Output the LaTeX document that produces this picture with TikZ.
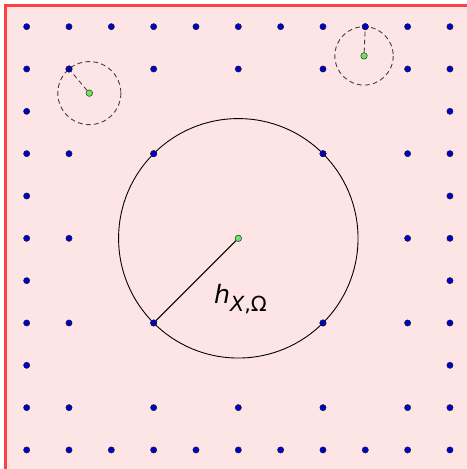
\documentclass[tikz,border=0pt]{standalone}
\usepackage{fontspec}
\usepackage{tikz}
\usetikzlibrary{positioning}
\newfontfamily\lblfont{DejaVu Sans}
\definecolor{DomFill}{HTML}{FDE5E5}
\definecolor{DomEdge}{HTML}{FF4040}
\definecolor{PtBlue}{HTML}{0000C8}
\definecolor{PtGreen}{HTML}{6CE65A}
\definecolor{PtInk}{HTML}{1A1A2E}

\begin{document}
\begin{tikzpicture}[x=1cm,y=-1cm]
  \tikzset{
    omegabox/.style={draw=DomEdge,fill=DomFill,line width=1.4pt},
    pt/.style={circle,inner sep=0pt,minimum size=4.2pt,fill=PtBlue,draw=PtInk,line width=.3pt},
    ctr/.style={circle,inner sep=0pt,minimum size=4.4pt,fill=PtGreen,draw=PtInk,line width=.3pt},
    ball/.style={draw=black,line width=.6pt},
    probe/.style={draw=black!75,line width=.6pt,dash pattern=on 3.2pt off 2.2pt}
  }
  \useasboundingbox (-0.63,-0.63) rectangle (10.38,10.45);
  \fill[DomFill] (-0.5,-0.5) rectangle (10.5,10.5);
  \draw[omegabox] (10.5,-0.5) -- (-0.5,-0.5) -- (-0.5,10.5);
  % point set, row by row
  \foreach \j/\cols in {0/{0,1,...,10},1/{0,1,3,5,7,9,10},2/{0,10},3/{0,1,3,7,9,10},
      4/{0,10},5/{0,1,9,10},6/{0,10},7/{0,1,3,7,9,10},8/{0,10},
      9/{0,1,3,5,7,9,10},10/{0,1,...,10}}
    \foreach \i in \cols
      \node[pt] (p-\i-\j) at (\i,\j) {};
  % fill distance ball
  \node[ctr] (c) at (5,5) {};
  \draw[ball] (c.center) circle[radius=2.8284];
  \draw[ball] (c) -- (p-3-7);
  \node[anchor=base west,inner sep=0pt,font=\lblfont\fontsize{17}{19}\selectfont] (lbl) at (4.42,6.55)
    {\itshape h\raisebox{-5pt}{\fontsize{14}{16}\selectfont\itshape X\upshape,Ω}};
  % small balls
  \node[ctr] (s1) at (1.48,1.57) {};
  \draw[probe] (s1.center) circle[radius=0.745];
  \draw[probe] (s1) -- (p-1-1);
  \node[ctr] (s2) at (7.97,0.69) {};
  \draw[probe] (s2.center) circle[radius=0.69];
  \draw[probe] (s2) -- (p-8-0);
  % redraw boundary points on top
  \foreach \q in {p-1-1,p-8-0,p-3-3,p-7-3,p-3-7,p-7-7}
    \node[pt] at (\q) {};
\end{tikzpicture}
\end{document}
